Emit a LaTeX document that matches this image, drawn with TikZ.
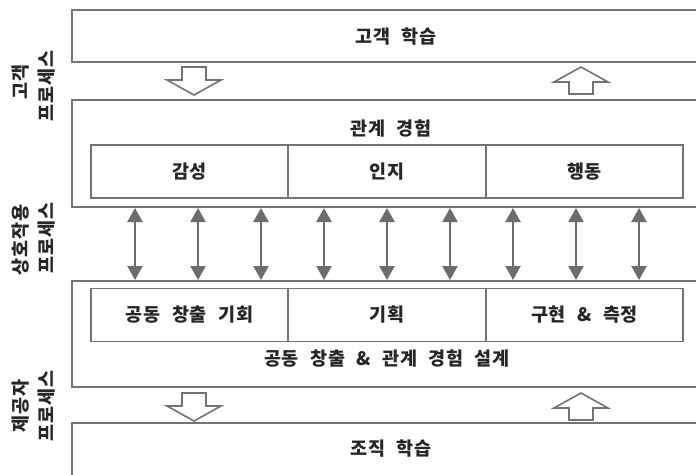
\documentclass[tikz,border=0pt]{standalone}
\usepackage{fontspec}
\setmainfont{Noto Sans CJK KR}
\newfontfamily\krf{Noto Sans CJK KR}[LetterSpace=5, WordSpace=2.2]
\usetikzlibrary{arrows.meta}
\begin{document}
\begin{tikzpicture}[x=1pt,y=-1pt,
  frame/.style={draw=gray!90!black, line width=1.8pt},
  cell/.style={draw=gray!90!black, line width=1.8pt, minimum width=197pt, minimum height=53pt, inner sep=0pt},
  lbl/.style={font=\krf\bfseries\fontsize{18.5}{18.5}\selectfont, text=black!85, inner sep=0pt},
  side/.style={font=\krf\bfseries\fontsize{18.5}{18.5}\selectfont, text=black!85, rotate=90, inner sep=0pt},
  hollow/.style={draw=gray!90!black, line width=1.6pt, fill=white, line join=miter},
  dbl/.style={draw=gray!85!black, line width=2.2pt, {Triangle[width=15pt,length=14pt]}-{Triangle[width=15pt,length=14pt]}}
]
\useasboundingbox[fill=white] (0,0) rectangle (696,474);

% outer boxes (open to the right)
\coordinate (b1tl) at (72,10); \coordinate (b1bl) at (72,62);
\coordinate (b2tl) at (72,100); \coordinate (b2bl) at (72,207);
\coordinate (b3tl) at (72,281); \coordinate (b3bl) at (72,387);
\coordinate (b4tl) at (72,423); \coordinate (b4bl) at (72,480);
\draw[frame] (b1tl -| 700,0) -- (b1tl) -- (b1bl) -- (b1bl -| 700,0);
\draw[frame] (b2tl -| 700,0) -- (b2tl) -- (b2bl) -- (b2bl -| 700,0);
\draw[frame] (b3tl -| 700,0) -- (b3tl) -- (b3bl) -- (b3bl -| 700,0);
\draw[frame] (b4tl -| 700,0) -- (b4tl) -- (b4bl);

% titles
\node[lbl] (t1) at (396,37) {고객 학습};
\node[lbl] (t2) at (391,128) {관계 경험};
\node[lbl] (t3) at (387,359) {공동 창출 \& 관계 경험 설계};
\node[lbl] (t4) at (391,449) {조직 학습};

% cells row 1
\node[cell] (c11) at (189.5,171.5) {};
\node[cell] (c12) at (387,171.5) {};
\node[cell] (c13) at (584.5,171.5) {};
\node[lbl] at (c11) {감성};
\node[lbl] at (c12) {인지};
\node[lbl] at (c13) {행동};

% cells row 2
\node[cell] (c21) at (189.5,315) {};
\node[cell] (c22) at (387,315) {};
\node[cell] (c23) at (584.5,315) {};
\node[lbl] at (c21) {공동 창출 기회};
\node[lbl] at (c22) {기획};
\node[lbl] at (c23) {구현 \& 측정};

% hollow arrows
\foreach \yo/\n in {0/a,326/b}{
  \draw[hollow] (182,67+\yo) -- (206,67+\yo) -- (206,80+\yo) -- (221,80+\yo) -- (194,95+\yo) -- (167,80+\yo) -- (182,80+\yo) -- cycle;
  \draw[hollow] (569,94+\yo) -- (593,94+\yo) -- (593,82+\yo) -- (608,82+\yo) -- (581,67+\yo) -- (554,82+\yo) -- (569,82+\yo) -- cycle;
}

% interaction arrows
\foreach \i in {0,...,8}{
  \coordinate (u\i) at ({135+63*\i},208);
  \coordinate (d\i) at ({135+63*\i},280);
  \draw[dbl] (u\i) -- (d\i);
}

% side labels
\node[side] (s1a) at (21,82) {고객};
\node[side] (s1b) at (47,86) {프로세스};
\node[side] (s2a) at (21,240) {상호작용};
\node[side] (s2b) at (47,238) {프로세스};
\node[side] (s3a) at (21,406) {제공자};
\node[side] (s3b) at (47,406) {프로세스};
\end{tikzpicture}
\end{document}
